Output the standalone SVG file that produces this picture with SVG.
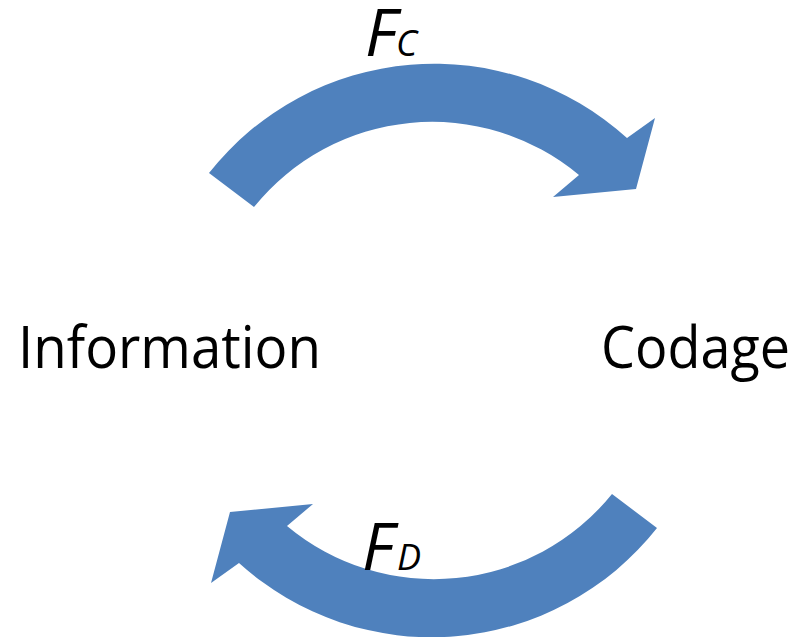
<svg xmlns="http://www.w3.org/2000/svg" width="807" height="637" viewBox="0 0 807 637">
  <defs>
    <style>
      .arrow { fill: #4F81BD; }
      .label { font-family: "Open Sans", "Liberation Sans", sans-serif; font-size: 58px; fill: #000000; }
      .fn { font-family: "Open Sans", "Liberation Sans", sans-serif; font-style: italic; fill: #000000; }
      .big { font-size: 66px; }
      .small { font-size: 36px; }
    </style>
    <!-- curved block arrow around centre (433,350.5), inner r 229, outer r 287 -->
    <path id="curved-arrow" d="M 209,173 A 287 287 0 0 1 627,138 L 655,118 L 636,189 L 553,197 L 579,175 A 229 229 0 0 0 254,207 Z"/>
  </defs>
  <rect width="807" height="637" fill="#FFFFFF"/>

  <g id="connectors">
    <g id="arrow-coding">
      <use href="#curved-arrow" class="arrow"/>
      <text class="fn" y="56"><tspan class="big" x="365">F</tspan><tspan class="small" x="396">C</tspan></text>
    </g>
    <g id="arrow-decoding">
      <use href="#curved-arrow" class="arrow" transform="rotate(180 433 350.5)"/>
      <text class="fn" y="570"><tspan class="big" x="362">F</tspan><tspan class="small" x="397">D</tspan></text>
    </g>
  </g>

  <g id="node-information">
    <text class="label" x="18" y="368" textLength="303" lengthAdjust="spacingAndGlyphs">Information</text>
  </g>
  <g id="node-codage">
    <text class="label" x="601" y="368" textLength="189" lengthAdjust="spacingAndGlyphs">Codage</text>
  </g>
</svg>
